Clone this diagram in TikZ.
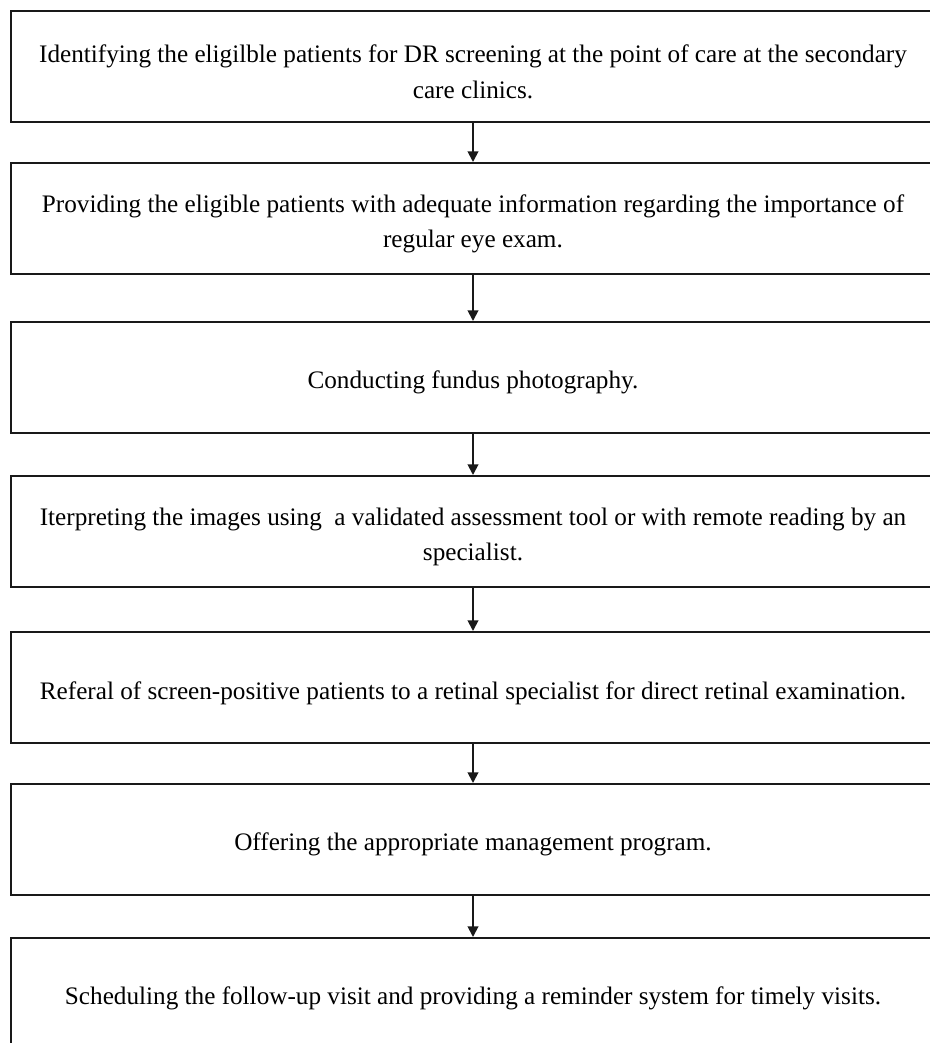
\documentclass[tikz,border=0pt]{standalone}
\usepackage{fontspec}
\setmainfont{Liberation Serif}
\usetikzlibrary{arrows.meta}
\begin{document}
\begin{tikzpicture}[x=0.75pt,y=-0.75pt,
  stepbox/.style={draw=black!90, line width=1.5pt, minimum width=693pt, minimum height=83.25pt,
    inner sep=0pt},
  steptext/.style={yshift=-4pt, inner sep=0pt, align=center, font=\fontsize{18.9}{26.5}\selectfont},
  flowarrow/.style={draw=black!90, line width=1.4pt, -{Triangle[width=8pt,length=8pt]}}]
\useasboundingbox (0,0) rectangle (930,1043);
\clip (0,0) rectangle (930,1043);
\node[stepbox, label={[steptext]center:{Identifying the eligilble patients for DR screening at the point of care at the secondary\\care clinics.}}] (b1) at (473,66.5) {};
\node[stepbox, label={[steptext]center:{Providing the eligible patients with adequate information regarding the importance of\\regular eye exam.}}] (b2) at (473,218.5) {};
\node[stepbox, label={[steptext]center:{Conducting fundus photography.}}] (b3) at (473,377.5) {};
\node[stepbox, label={[steptext]center:{Iterpreting the images using\ \ a validated assessment tool or with remote reading by an\\specialist.}}] (b4) at (473,531.5) {};
\node[stepbox, label={[steptext]center:{Referal of screen-positive patients to a retinal specialist for direct retinal examination.}}] (b5) at (473,687.5) {};
\node[stepbox, label={[steptext]center:{Offering the appropriate management program.}}] (b6) at (473,839.5) {};
\node[stepbox, label={[steptext]center:{Scheduling the follow-up visit and providing a reminder system for timely visits.}}] (b7) at (473,993.5) {};
\draw[flowarrow] (b1.south) -- (b2.north);
\draw[flowarrow] (b2.south) -- (b3.north);
\draw[flowarrow] (b3.south) -- (b4.north);
\draw[flowarrow] (b4.south) -- (b5.north);
\draw[flowarrow] (b5.south) -- (b6.north);
\draw[flowarrow] (b6.south) -- (b7.north);
\end{tikzpicture}
\end{document}
